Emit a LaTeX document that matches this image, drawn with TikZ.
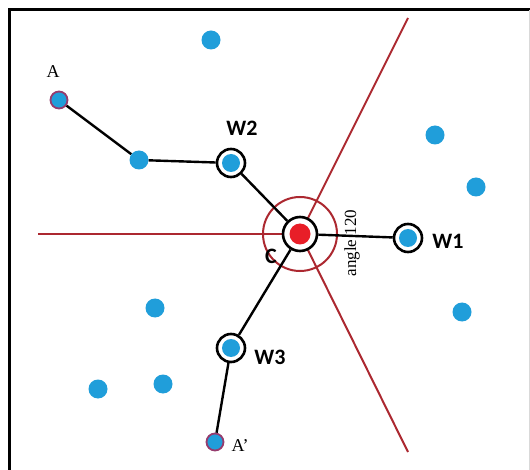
\documentclass[tikz,border=0pt]{standalone}
\usepackage{fontspec}
\setmainfont{Liberation Serif}
\newfontfamily\lblfont{Carlito}
\definecolor{dotblue}{RGB}{32,158,218}
\definecolor{linered}{RGB}{172,40,48}
\definecolor{cred}{RGB}{232,30,40}
\definecolor{rimpurple}{RGB}{150,60,110}
\begin{document}
\begin{tikzpicture}[x=1pt,y=-1pt,
  bdot/.style={circle,fill=dotblue,minimum size=19pt,inner sep=0pt},
  wnode/.style={circle,draw=black,line width=2.6pt,fill=white,minimum size=28pt,inner sep=0pt,
    path picture={\fill[dotblue] (path picture bounding box.center) circle (9pt);}},
  endnode/.style={circle,draw=rimpurple,line width=1.8pt,fill=dotblue,minimum size=17pt,inner sep=0pt},
  conn/.style={black,line width=2.4pt},
  sector/.style={linered,line width=2pt},
  wlabel/.style={font=\lblfont\bfseries\fontsize{22}{22}\selectfont,inner sep=0pt},
  slabel/.style={font=\fontsize{18}{18}\selectfont,inner sep=0pt}]
\useasboundingbox (0,0) rectangle (530,470);
\fill[white] (0,0) rectangle (530,470);
% frame
\draw[black,line width=3pt] (9,470) -- (9,10) -- (530,10);
\draw[black!15,line width=1pt] (529,10) -- (529,470);
% sector lines
\coordinate (ctr) at (300,234);
\coordinate (Lend) at (38,234);
\coordinate (Uend) at (408,18);
\coordinate (Dend) at (408,452);
\draw[sector] (ctr) -- (Lend);
\draw[sector] (ctr) -- (Uend);
\draw[sector] (ctr) -- (Dend);
\draw[sector] (ctr) circle (37pt);
% nodes
\node[circle,draw=black,line width=2.6pt,fill=white,minimum size=34pt,inner sep=0pt,
  path picture={\fill[cred] (path picture bounding box.center) circle (10.5pt);}] (C) at (ctr) {};
\node[wnode] (W1) at (408,238) {};
\node[wnode] (W2) at (231,163) {};
\node[wnode] (W3) at (231,348) {};
\node[endnode] (A) at (59,100) {};
\node[endnode] (Ap) at (215,442) {};
\node[bdot] (P) at (139,160) {};
% connectors
\draw[conn] (A) -- (P) -- (W2) -- (C) -- (W1);
\draw[conn] (C) -- (W3) -- (Ap);
% other dots
\node[bdot] (d1) at (211,40) {};
\node[bdot] (d2) at (435,135) {};
\node[bdot] (d3) at (476,187) {};
\node[bdot] (d4) at (462,312) {};
\node[bdot] (d5) at (155,308) {};
\node[bdot] (d6) at (98,389) {};
\node[bdot] (d7) at (163,384) {};
% labels
\node[wlabel] (tW1) at (448,241) {W1};
\node[wlabel] (tW2) at (242,128) {W2};
\node[wlabel] (tW3) at (270,357) {W3};
\node[wlabel] (tC) at (271,256) {C};
\node[slabel] (tA) at (53,72) {A};
\node[slabel] (tAp) at (240,446) {A'};
\node[slabel,rotate=90,font=\fontsize{17}{17}\selectfont] (tang) at (352,243) {angle 120};
\end{tikzpicture}
\end{document}
